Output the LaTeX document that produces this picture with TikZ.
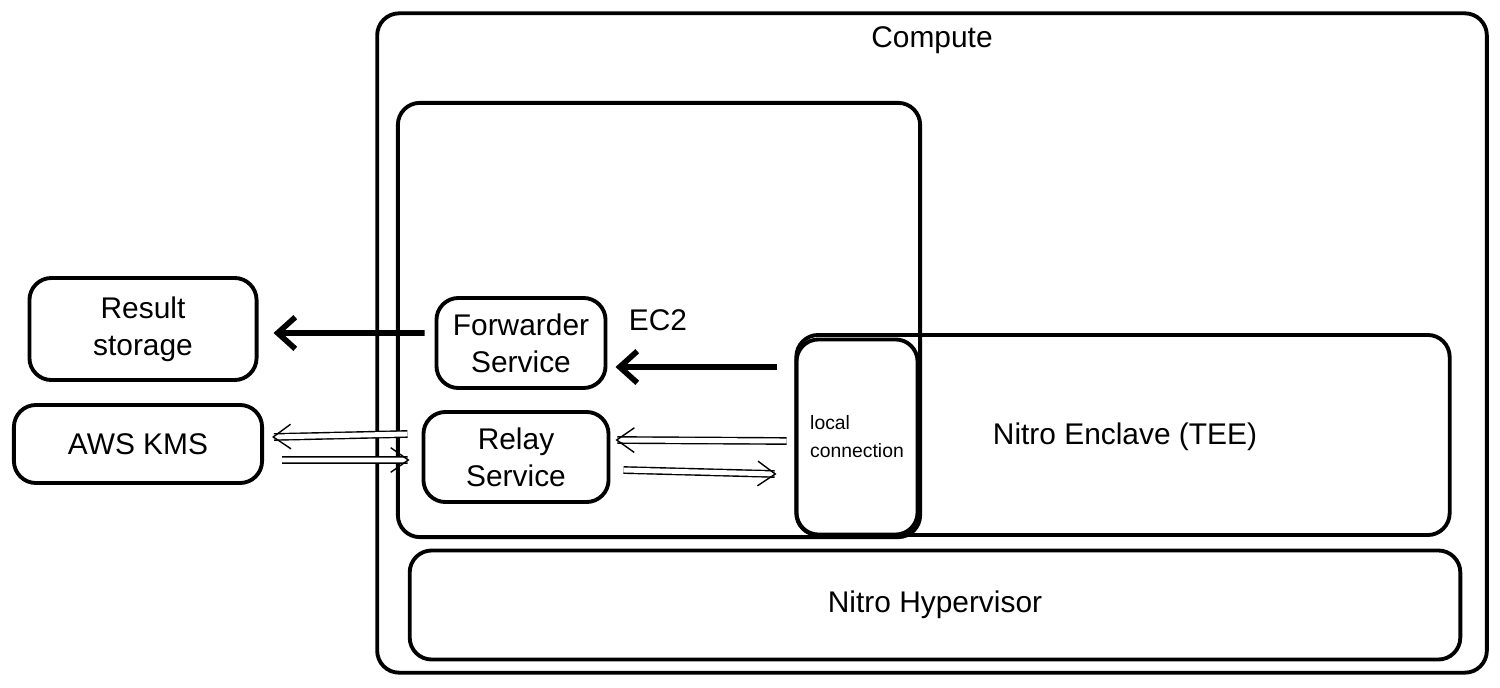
\documentclass[tikz,border=0pt]{standalone}
\usepackage{fontspec}
\setmainfont{Liberation Sans}
\usetikzlibrary{arrows.meta}
\begin{document}
\begin{tikzpicture}[x=0.01cm,y=-0.01cm,
		box/.style = {draw,line width=1.1pt,rounded corners=0.22cm,inner sep=0pt,align=center,font=\fontsize{8.5}{10.5}\selectfont},
		lbl/.style = {font=\fontsize{8.5}{10.5}\selectfont},
		link/.style = {line width=1.6pt,-{Straight Barb[length=5pt,width=9pt]}},
		pipe/.style = {double,double distance=1.4pt,line width=0.4pt,-{Straight Barb[length=5pt,width=7pt]}}]
		\useasboundingbox (0,0) rectangle (1500,688);
		\node[box,minimum width=11.09cm,minimum height=6.59cm] (compute) at (932,343) {};
		\node[lbl] (computelbl) at (932,40) {Compute};
		\node[box,minimum width=5.22cm,minimum height=4.34cm] (ec2) at (659,320) {};
		\node[lbl] (ec2lbl) at (658,320) {EC2};
		\node[box,minimum width=6.53cm,minimum height=2.0cm] (enclave) at (1123,435) {};
		\node[lbl] (enclavelbl) at (1125,437) {Nitro Enclave (TEE)};
		\node[box,minimum width=1.21cm,minimum height=1.95cm,font=\fontsize{5.5}{8}\selectfont,align=left] (local) at (857,437) {local\\connection};
		\node[box,minimum width=10.5cm,minimum height=1.09cm] (hyper) at (935,605) {Nitro Hypervisor};
		\node[box,minimum width=2.27cm,minimum height=1.02cm] (result) at (143,329) {Result\\storage};
		\node[box,minimum width=2.48cm,minimum height=0.78cm] (kms) at (138,444) {AWS KMS};
		\node[box,minimum width=1.69cm,minimum height=0.9cm] (forwarder) at (521,343) {Forwarder\\Service};
		\node[box,minimum width=1.85cm,minimum height=0.9cm] (relay) at (516,457) {Relay\\Service};

		\draw[link] ([xshift=-0.1cm,yshift=0.1cm]forwarder.west) -- ([xshift=0.15cm,yshift=-0.04cm]result.east);
		\draw[link] ([xshift=-0.18cm,yshift=-0.24cm]local.west |- forwarder.east) -- ([xshift=0.08cm,yshift=-0.24cm]forwarder.east);
		\draw[pipe] ([xshift=-0.14cm,yshift=0.23cm]relay.west) -- ([xshift=0.08cm,yshift=0.07cm]kms.east);
		\draw[pipe] ([xshift=0.18cm,yshift=-0.16cm]kms.east) -- ([xshift=-0.12cm,yshift=-0.03cm]relay.west);
		\draw[pipe] ([xshift=-0.08cm,yshift=-0.04cm]local.west) -- ([xshift=0.05cm,yshift=0.17cm]relay.east);
		\draw[pipe] ([xshift=0.13cm,yshift=-0.13cm]relay.east) -- ([xshift=-0.18cm,yshift=-0.37cm]local.west);
	\end{tikzpicture}
\end{document}
